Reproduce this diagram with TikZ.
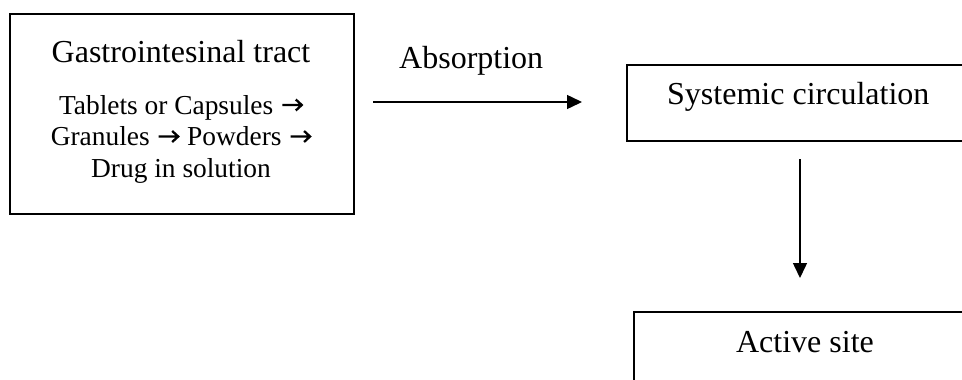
\documentclass[tikz,border=0pt]{standalone}
\usepackage{fontspec}
\setmainfont{Liberation Serif}
\usetikzlibrary{arrows.meta}
\newcommand\wdarrow{\hspace{1pt}\tikz[baseline=0pt]\draw[line width=2.3pt, miter limit=10] (0pt,9pt) -- (19.5pt,9pt) (13.5pt,14.5pt) -- (19.5pt,9pt) -- (13.5pt,3.5pt);\hspace{1pt}}
\begin{document}
\begin{tikzpicture}[x=1pt,y=-1pt,
  box/.style={draw, line width=1.5pt, rectangle, inner sep=0pt},
  flow/.style={line width=1.5pt, -{Triangle[length=15pt,width=14pt]}},
  big/.style={font=\fontsize{32}{37}\selectfont, inner sep=0pt, anchor=base},
  small/.style={font=\fontsize{27.4}{31.5}\selectfont, inner sep=0pt, anchor=base}]
\useasboundingbox (0,0) rectangle (962,380);
\clip (0,0) rectangle (962,380);
% boxes
\node[box, minimum width=344pt, minimum height=200pt, anchor=north west] (gi) at (9,13) {};
\node[box, minimum width=352pt, minimum height=76pt, anchor=north west] (sc) at (626,64) {};
\node[box, minimum width=345pt, minimum height=77pt, anchor=north west] (as) at (633,311) {};
% texts
\node[big] (git) at (181,62) {Gastrointesinal tract};
\node[small] (l1) at (181,114) {Tablets or Capsules \wdarrow};
\node[small] (l2) at (181,145.5) {Granules \wdarrow{} Powders \wdarrow};
\node[small] (l3) at (181,177) {Drug in solution};
\node[big, anchor=base west] (sct) at (667,104) {Systemic circulation};
\node[big] (ast) at (805,352) {Active site};
\node[big, anchor=base west] (abs) at (399,68) {Absorption};
% connectors
\coordinate (h1) at (373,102);
\coordinate (h2) at (582,102);
\draw[flow] (h1) -- (h2);
\coordinate (v1) at (800,159);
\coordinate (v2) at (800,278);
\draw[flow] (v1) -- (v2);
\end{tikzpicture}
\end{document}
